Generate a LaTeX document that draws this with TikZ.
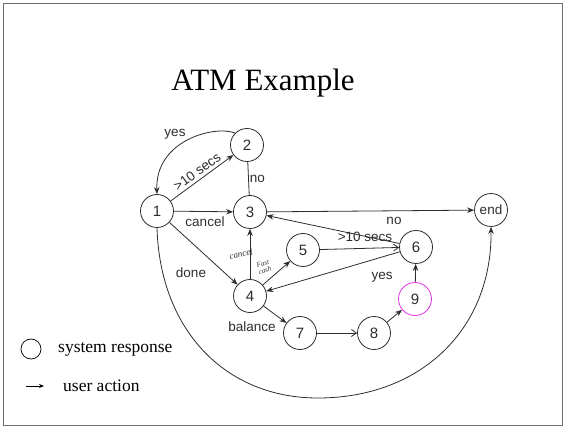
\documentclass[tikz,border=0pt]{standalone}
\usepackage{fontspec}
\setmainfont{Liberation Serif}
\newfontfamily\diafont{Liberation Sans}
\usetikzlibrary{arrows.meta}
\definecolor{ink}{RGB}{45,45,45}
\definecolor{pinkring}{RGB}{225,50,225}
\definecolor{framegray}{RGB}{110,110,110}
\tikzset{
  st/.style={draw=ink, circle, line width=0.8pt, minimum size=33pt, inner sep=0pt, font=\diafont\fontsize{15}{15}\selectfont, text=ink},
  lbl/.style={font=\diafont\fontsize{13.5}{14}\selectfont, text=ink, inner sep=1pt},
  hand/.style={font=\itshape\fontsize{9}{9}\selectfont, text=ink, inner sep=0pt, align=left},
  edge/.style={draw=ink, line width=0.8pt},
  arr/.style={edge, -{Stealth[length=7pt,width=5.5pt]}},
  arro/.style={edge, -{Straight Barb[length=5pt,width=7pt]}},
  legtxt/.style={font=\fontsize{17.5}{18}\selectfont, anchor=west, inner sep=0pt}
}
\begin{document}
\begin{tikzpicture}[x=1pt,y=-1pt]
\useasboundingbox (0,0) rectangle (564,427);
\draw[framegray, line width=1pt] (3,4) rectangle (562,425);
\node[font=\fontsize{31}{32}\selectfont, anchor=base] (title) at (263,91) {ATM Example};

\node[st] (n1) at (157,211) {1};
\node[st] (n2) at (247,145) {2};
\node[st] (n3) at (250,212) {3};
\node[st, font=\diafont\fontsize{13.5}{14}\selectfont] (nend) at (491,210) {end};
\node[st] (n5) at (303,250) {5};
\node[st] (n6) at (416,247) {6};
\node[st] (n4) at (250,296) {4};
\node[st, draw=pinkring] (n9) at (415,299) {9};
\node[st] (n7) at (300,333) {7};
\node[st] (n8) at (374,333) {8};

\draw[arr] (n1) -- node[sloped, above=2pt, lbl] {>10 secs} (n2);
\draw[arr] (n2.north west) .. controls (215,125) and (155,140) .. (n1.north);
\node[lbl] (lyes1) at (175,134) {yes};
\draw[edge] (n2) -- node[right, lbl] {no} (n3);
\draw[arr] (n1) -- (n3);
\node[lbl] (lcancel) at (205,222) {cancel};
\draw[arr] (n3) -- (nend);
\draw[arr] (n6) -- (n3);
\node[lbl] (lno2) at (394,221) {no};
\draw[arro] (n5) -- (n6);
\node[lbl] (lsecs2) at (365,237) {>10 secs};
\draw[arr] (n6) -- (n4);
\node[lbl] (lyes2) at (382,277) {yes};
\draw[arr] (n4) -- (n3);
\node[hand, rotate=12] (lcan2) at (241,254) {cancel};
\draw[arr] (n4) -- (n5);
\node[hand, font=\itshape\fontsize{7}{7}\selectfont, rotate=15] (lfast) at (264,267) {Fast\\cash};
\draw[arr] (n1) -- (n4);
\node[lbl] (ldone) at (191,273) {done};
\draw[arr] (n4) -- (n7);
\node[lbl] (lbal) at (252,327) {balance};
\draw[arro] (n7) -- (n8);
\draw[arr] (n8) -- (n9);
\draw[arr] (n9) -- (n6);
\draw[arr] (n1.south) .. controls (160,330) and (225,398) .. (318,398) .. controls (420,398) and (492,330) .. (nend.south);

\node[draw=black, circle, minimum size=20pt, inner sep=0pt, line width=0.7pt] (legc) at (31,349) {};
\node[legtxt] (legt1) at (58,349) {system response};
\coordinate (lega) at (26,386);
\coordinate (legb) at (44,386);
\draw[line width=0.8pt, -{Stealth[length=5pt,width=4pt]}] (lega) -- (legb);
\node[legtxt] (legt2) at (63,386) {user action};
\end{tikzpicture}
\end{document}
